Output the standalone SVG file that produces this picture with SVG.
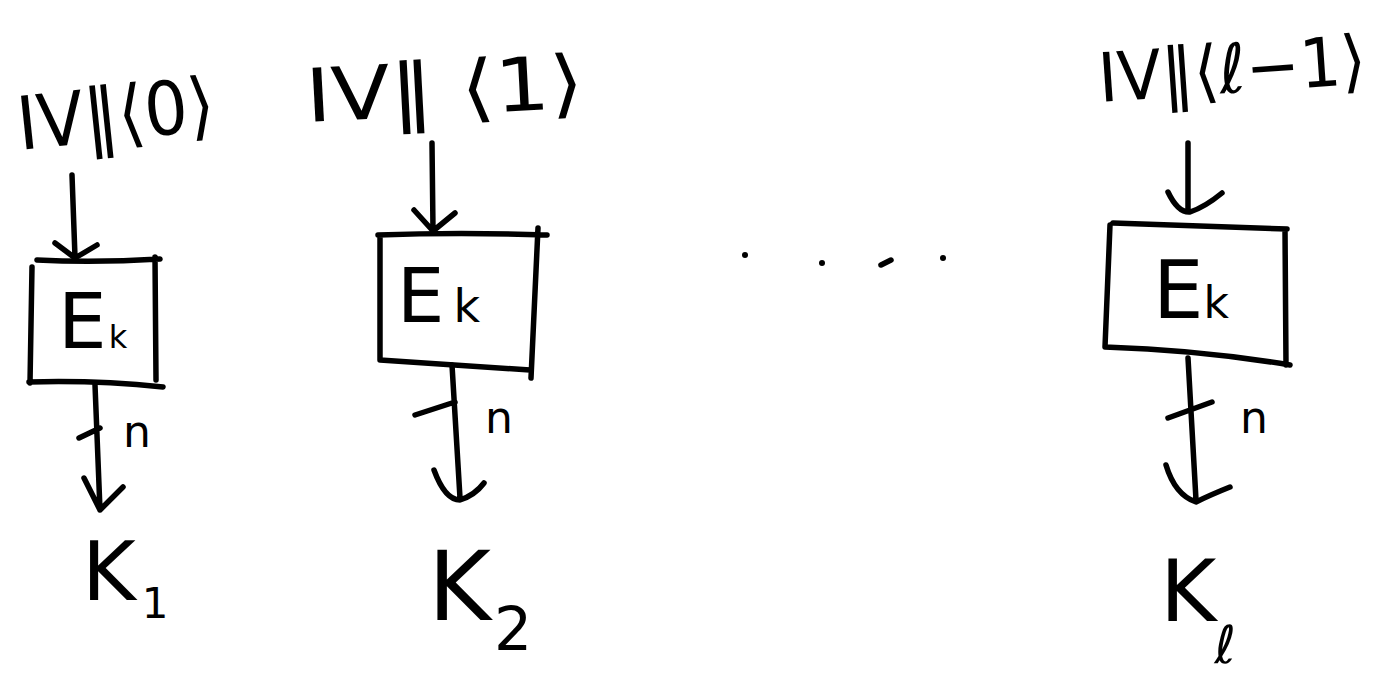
<svg xmlns="http://www.w3.org/2000/svg" width="1395" height="675" viewBox="0 0 1395 675">
  <style>
    .ink { fill: none; stroke: #000; stroke-width: 5.5; stroke-linecap: round; stroke-linejoin: round; }
    .lbl { font-family: "DejaVu Sans", "Liberation Sans", sans-serif; fill: #000; }
    .big { font-size: 74px; }
    .n { font-size: 44px; }
  </style>
  <rect width="1395" height="675" fill="#fff"/>

  <!-- input labels -->
  <g id="iv0"><text class="lbl big" x="20" y="150" textLength="198" lengthAdjust="spacingAndGlyphs" transform="rotate(-6 20 150)">IV‖⟨0⟩</text></g>
  <g id="iv1"><text class="lbl big" x="307" y="122" textLength="278" lengthAdjust="spacingAndGlyphs" transform="rotate(-3 307 122)">IV‖ ⟨1⟩</text></g>
  <g id="iv2"><text class="lbl" font-size="68" x="1100" y="102" textLength="268" lengthAdjust="spacingAndGlyphs" transform="rotate(-4 1100 102)">IV‖⟨ℓ−1⟩</text></g>

  <!-- encryption blocks -->
  <g id="block0">
    <path class="ink" d="M37,260 Q95,263 160,259 M32,267 L30,383 M155,257 L156,380 M29,382 Q95,380 163,387"/>
    <text class="lbl" x="58" y="348" font-size="77">E<tspan font-size="32" dx="2">k</tspan></text>
  </g>
  <g id="block1">
    <path class="ink" d="M378,235 Q460,232 547,235 M380,237 L380,360 L530,370 M538,228 L531,378"/>
    <text class="lbl" x="397" y="322" font-size="75">E<tspan font-size="46" dx="9">k</tspan></text>
  </g>
  <g id="block2">
    <path class="ink" d="M1113,223 L1287,229 M1110,225 L1105,347 Q1200,350 1290,365 M1285,229 L1286,365"/>
    <text class="lbl" x="1153" y="318" font-size="80">E<tspan font-size="44" dx="0">k</tspan></text>
  </g>

  <!-- ellipsis between blocks -->
  <g id="ellipsis">
    <circle cx="745" cy="255" r="3"/>
    <circle cx="822" cy="263" r="3"/>
    <path class="ink" d="M881,265 L891,260"/>
    <circle cx="943" cy="258" r="3"/>
  </g>

  <!-- bit-width labels -->
  <g id="n0"><text class="lbl n" x="123" y="447">n</text></g>
  <g id="n1"><text class="lbl n" x="485" y="433">n</text></g>
  <g id="n2"><text class="lbl n" x="1240" y="433">n</text></g>

  <!-- output keys -->
  <g id="k1"><text class="lbl" x="82" y="600" font-size="82">K<tspan font-size="42" dx="6" dy="18">1</tspan></text></g>
  <g id="k2"><text class="lbl" x="428" y="620" font-size="96">K<tspan font-size="60" dx="3" dy="30">2</tspan></text></g>
  <g id="kl"><text class="lbl" x="1160" y="621" font-size="86">K<tspan font-size="52" dx="-2" dy="42">ℓ</tspan></text></g>

  <!-- connectors -->
  <g id="connectors">
    <path class="ink" d="M72,175 L75,257 M55,243 L75,258 L97,245"/>
    <path class="ink" d="M432,143 L433,230 M414,210 L433,231 L455,213"/>
    <path class="ink" d="M1188,143 L1188,212 M1168,192 Q1178,213 1190,212 Q1205,207 1222,193"/>
    <path class="ink" d="M95,385 L100,510 M84,478 L100,510 L123,487 M79,438 L100,428"/>
    <path class="ink" d="M452,365 L460,498 M434,470 Q445,500 460,500 Q475,495 484,483 M415,415 L455,402"/>
    <path class="ink" d="M1188,358 L1196,500 M1166,465 Q1175,495 1196,502 Q1210,495 1230,487 M1168,418 L1212,402"/>
  </g>
</svg>
